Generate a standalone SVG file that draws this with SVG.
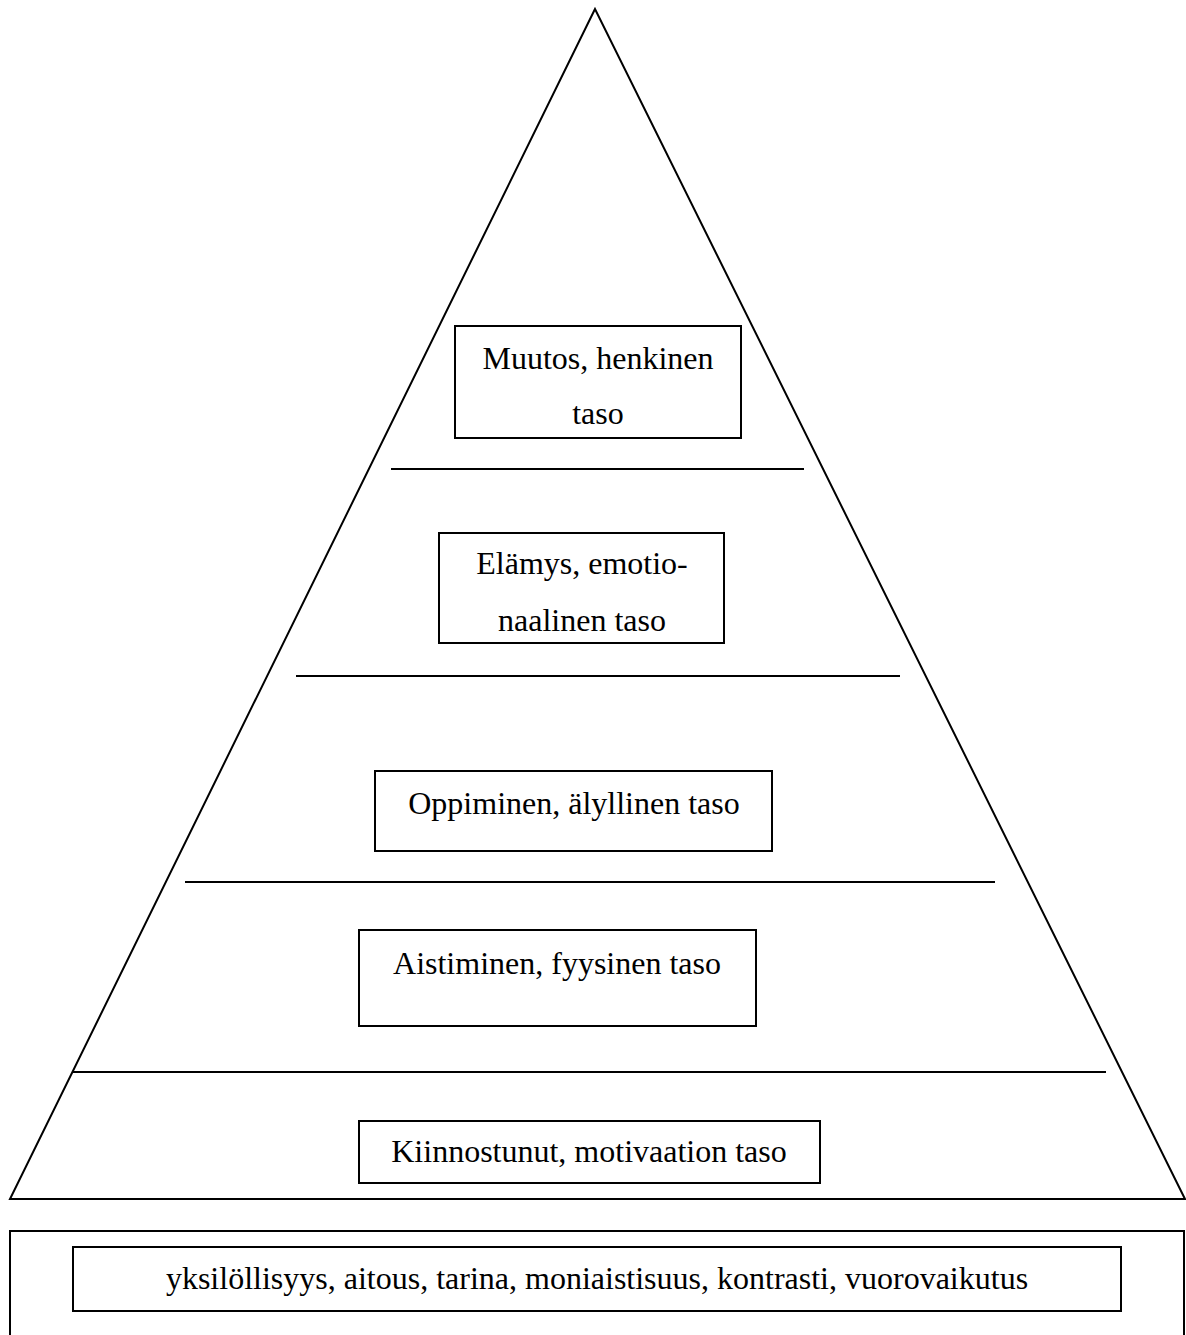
<svg xmlns="http://www.w3.org/2000/svg" width="1186" height="1335" viewBox="0 0 1186 1335">
<style>
.ln{stroke:#000;stroke-width:2;fill:none}
.bx{stroke:#000;stroke-width:2;fill:#fff}
.t{font-family:'Liberation Serif','DejaVu Serif',serif;font-size:32px;fill:#000;text-anchor:middle}
</style>
<rect width="1186" height="1335" fill="#fff"/>
<g id="pyramid">
<polygon class="ln" points="595,9 10,1199 1185,1199"/>
</g>
<g id="connectors">
<line class="ln" x1="391" y1="469" x2="804" y2="469"/>
<line class="ln" x1="296" y1="676" x2="900" y2="676"/>
<line class="ln" x1="185" y1="882" x2="995" y2="882"/>
<line class="ln" x1="73" y1="1072" x2="1106" y2="1072"/>
</g>
<g id="muutos">
<rect class="bx" x="455" y="326" width="286" height="112"/>
<text class="t" font-family="Liberation Serif, serif" x="598" y="369">Muutos, henkinen</text>
<text class="t" font-family="Liberation Serif, serif" x="598" y="424">taso</text>
</g>
<g id="elamys">
<rect class="bx" x="439" y="533" width="285" height="110"/>
<text class="t" font-family="Liberation Serif, serif" x="582" y="574">Elämys, emotio-</text>
<text class="t" font-family="Liberation Serif, serif" x="582" y="631">naalinen taso</text>
</g>
<g id="oppiminen">
<rect class="bx" x="375" y="771" width="397" height="80"/>
<text class="t" font-family="Liberation Serif, serif" x="574" y="814">Oppiminen, älyllinen taso</text>
</g>
<g id="aistiminen">
<rect class="bx" x="359" y="930" width="397" height="96"/>
<text class="t" font-family="Liberation Serif, serif" x="557" y="974">Aistiminen, fyysinen taso</text>
</g>
<g id="kiinnostunut">
<rect class="bx" x="359" y="1121" width="461" height="62"/>
<text class="t" font-family="Liberation Serif, serif" x="589" y="1162">Kiinnostunut, motivaation taso</text>
</g>
<g id="perusta">
<rect class="bx" x="10" y="1231" width="1174" height="115"/>
<rect class="bx" x="73" y="1247" width="1048" height="64"/>
<text class="t" font-family="Liberation Serif, serif" x="597" y="1289">yksilöllisyys, aitous, tarina, moniaistisuus, kontrasti, vuorovaikutus</text>
</g>
</svg>
